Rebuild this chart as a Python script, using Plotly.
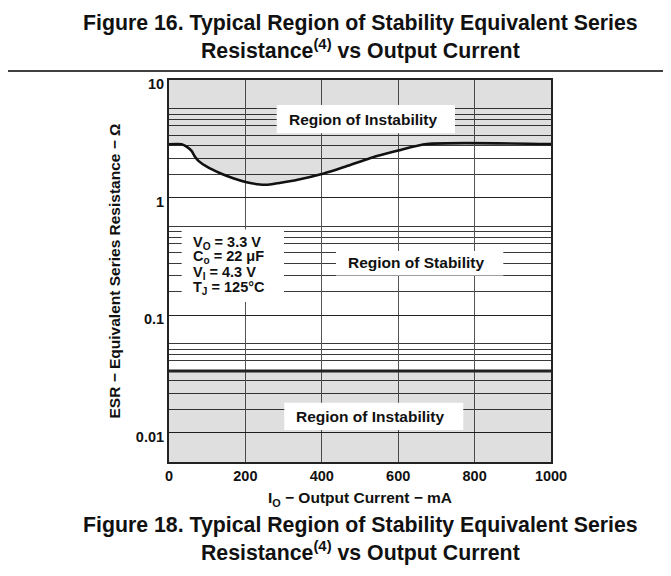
import plotly.graph_objects as go

# ---------------- data ----------------
current_ma = [0, 33, 46, 59, 68, 77, 99, 134, 168, 203, 238, 264, 282, 334, 400, 465, 526, 600, 675, 1000]
esr_upper = [2.84, 2.84, 2.71, 2.49, 2.22, 2.05, 1.83, 1.61, 1.46, 1.35, 1.29, 1.29, 1.32, 1.41, 1.585, 1.85, 2.16, 2.51, 2.85, 2.85]
lower_ma = [0, 1000]
esr_lower = [0.0334, 0.0334]

x_ticks = [0, 200, 400, 600, 800, 1000]
y_ticks = [0.01, 0.1, 1, 10]
y_tick_text = ["0.01", "0.1", "1", "10"]
minor_mult = [1.57, 2.15, 2.75, 3.4, 4.07, 4.57, 5.13, 5.69]
conditions = ["V<sub>O</sub> = 3.3 V", "C<sub>o</sub> = 22 μF", "V<sub>I</sub> = 4.3 V", "T<sub>J</sub> = 125°C"]

# ---------------- figure ----------------
FONT = "Liberation Sans, Arial, Helvetica, sans-serif"
y_log_min, y_log_max = -2.251, 1.0
y_bottom = 10 ** y_log_min
y_top = 10 ** y_log_max
shade = "rgba(0,0,0,0.125)"

fig = go.Figure()

# upper region of instability (above the curve)
fig.add_trace(go.Scatter(
    x=current_ma + current_ma[::-1],
    y=esr_upper + [y_top] * len(current_ma),
    fill="toself", fillcolor=shade, line=dict(width=0), mode="lines",
    hoverinfo="skip", showlegend=False))
# lower region of instability
fig.add_trace(go.Scatter(
    x=lower_ma + lower_ma[::-1],
    y=esr_lower + [y_bottom] * len(lower_ma),
    fill="toself", fillcolor=shade, line=dict(width=0), mode="lines",
    hoverinfo="skip", showlegend=False))
# boundaries
fig.add_trace(go.Scatter(x=current_ma, y=esr_upper, mode="lines",
                         line=dict(color="#111", width=2.6, shape="spline", smoothing=0.6),
                         showlegend=False))
fig.add_trace(go.Scatter(x=lower_ma, y=esr_lower, mode="lines",
                         line=dict(color="#222", width=3), showlegend=False))

minor_vals = [m * 10 ** d for d in (-2, -1, 0) for m in minor_mult]

fig.update_xaxes(
    range=[0, 1000], tickvals=x_ticks, ticks="", showgrid=True, gridcolor="#555", gridwidth=1,
    zeroline=False, showline=True, linecolor="#222", linewidth=2, mirror=True,
    tickfont=dict(family=FONT, size=14.5, color="#111", weight="bold"),
    title=dict(text="I<sub>O</sub> − Output Current − mA", standoff=9,
               font=dict(family=FONT, size=15.5, color="#111", weight="bold")))
fig.update_yaxes(
    type="log", range=[y_log_min, y_log_max], tickvals=y_ticks, ticktext=y_tick_text, ticks="",
    ticklabelshift=4,
    showgrid=True, gridcolor="#222", gridwidth=1, zeroline=False,
    showline=True, linecolor="#222", linewidth=2, mirror=True,
    minor=dict(tickvals=minor_vals, showgrid=True, gridcolor="#3a3a3a", gridwidth=1, ticks=""),
    tickfont=dict(family=FONT, size=14.5, color="#111", weight="bold"),
    title=dict(text="ESR − Equivalent Series Resistance − Ω", standoff=11,
               font=dict(family=FONT, size=15.5, color="#111", weight="bold")))

# page has an 8 px body margin: figure occupies page x 8..671, y 8..576
OFF = 8
L, R, T, B = 169 - OFF, 120, 80 - OFF, 114
W, H = 671 - OFF, 576 - OFF
PLOT_L, PLOT_B, PW, PH = 169, 462, 382, 382   # page pixel coords of plot area

def px(x):
    return (x - PLOT_L) / PW

def py(y):
    return (PLOT_B - y) / PH

shapes = []
# white label boxes
for (x0, x1, y0, y1) in [(276.7, 455, 105, 133.3), (336, 503.3, 251, 275.5),
                         (284.3, 463.3, 402.7, 430), (181.7, 284, 229.5, 302)]:
    shapes.append(dict(type="rect", xref="paper", yref="paper", layer="above",
                       x0=px(x0), x1=px(x1), y0=py(y1), y1=py(y0),
                       fillcolor="white", line=dict(width=0)))
# horizontal rule above the chart
shapes.append(dict(type="line", xref="paper", yref="paper", x0=px(0), x1=px(671),
                   y0=py(71), y1=py(71), line=dict(color="#000", width=1.5)))

ann = []
lab_font = dict(family=FONT, size=15.5, color="#111", weight="bold")
for (tx, ty, txt) in [(362.9, 119, "Region of Instability"), (415.8, 262, "Region of Stability"),
                      (370, 416, "Region of Instability")]:
    ann.append(dict(xref="paper", yref="paper", x=px(tx), y=py(ty), text=txt, showarrow=False,
                    xanchor="center", yanchor="middle", font=lab_font))
for c, yy in zip(conditions, [242.5, 257.5, 272.5, 288]):
    ann.append(dict(xref="paper", yref="paper", x=px(190.5), y=py(yy), text=c, showarrow=False,
                    xanchor="left", yanchor="middle",
                    font=dict(family=FONT, size=14.5, color="#111", weight="bold")))
title_font = dict(family=FONT, size=21.3, color="#111", weight="bold")
ann.append(dict(xref="paper", yref="paper", x=px(360), y=py(37), showarrow=False,
                text="Figure 16. Typical Region of Stability Equivalent Series<br>Resistance<sup>(4)</sup> vs Output Current",
                xanchor="center", yanchor="middle", font=title_font))
ann.append(dict(xref="paper", yref="paper", x=px(360), y=py(539), showarrow=False,
                text="Figure 18. Typical Region of Stability Equivalent Series<br>Resistance<sup>(4)</sup> vs Output Current",
                xanchor="center", yanchor="middle", font=title_font))

fig.update_layout(
    width=W, height=H, margin=dict(l=L, r=R, t=T, b=B),
    paper_bgcolor="white", plot_bgcolor="white",
    shapes=shapes, annotations=ann, showlegend=False,
    font=dict(family=FONT, color="#111"))

fig.write_html("out.html")
